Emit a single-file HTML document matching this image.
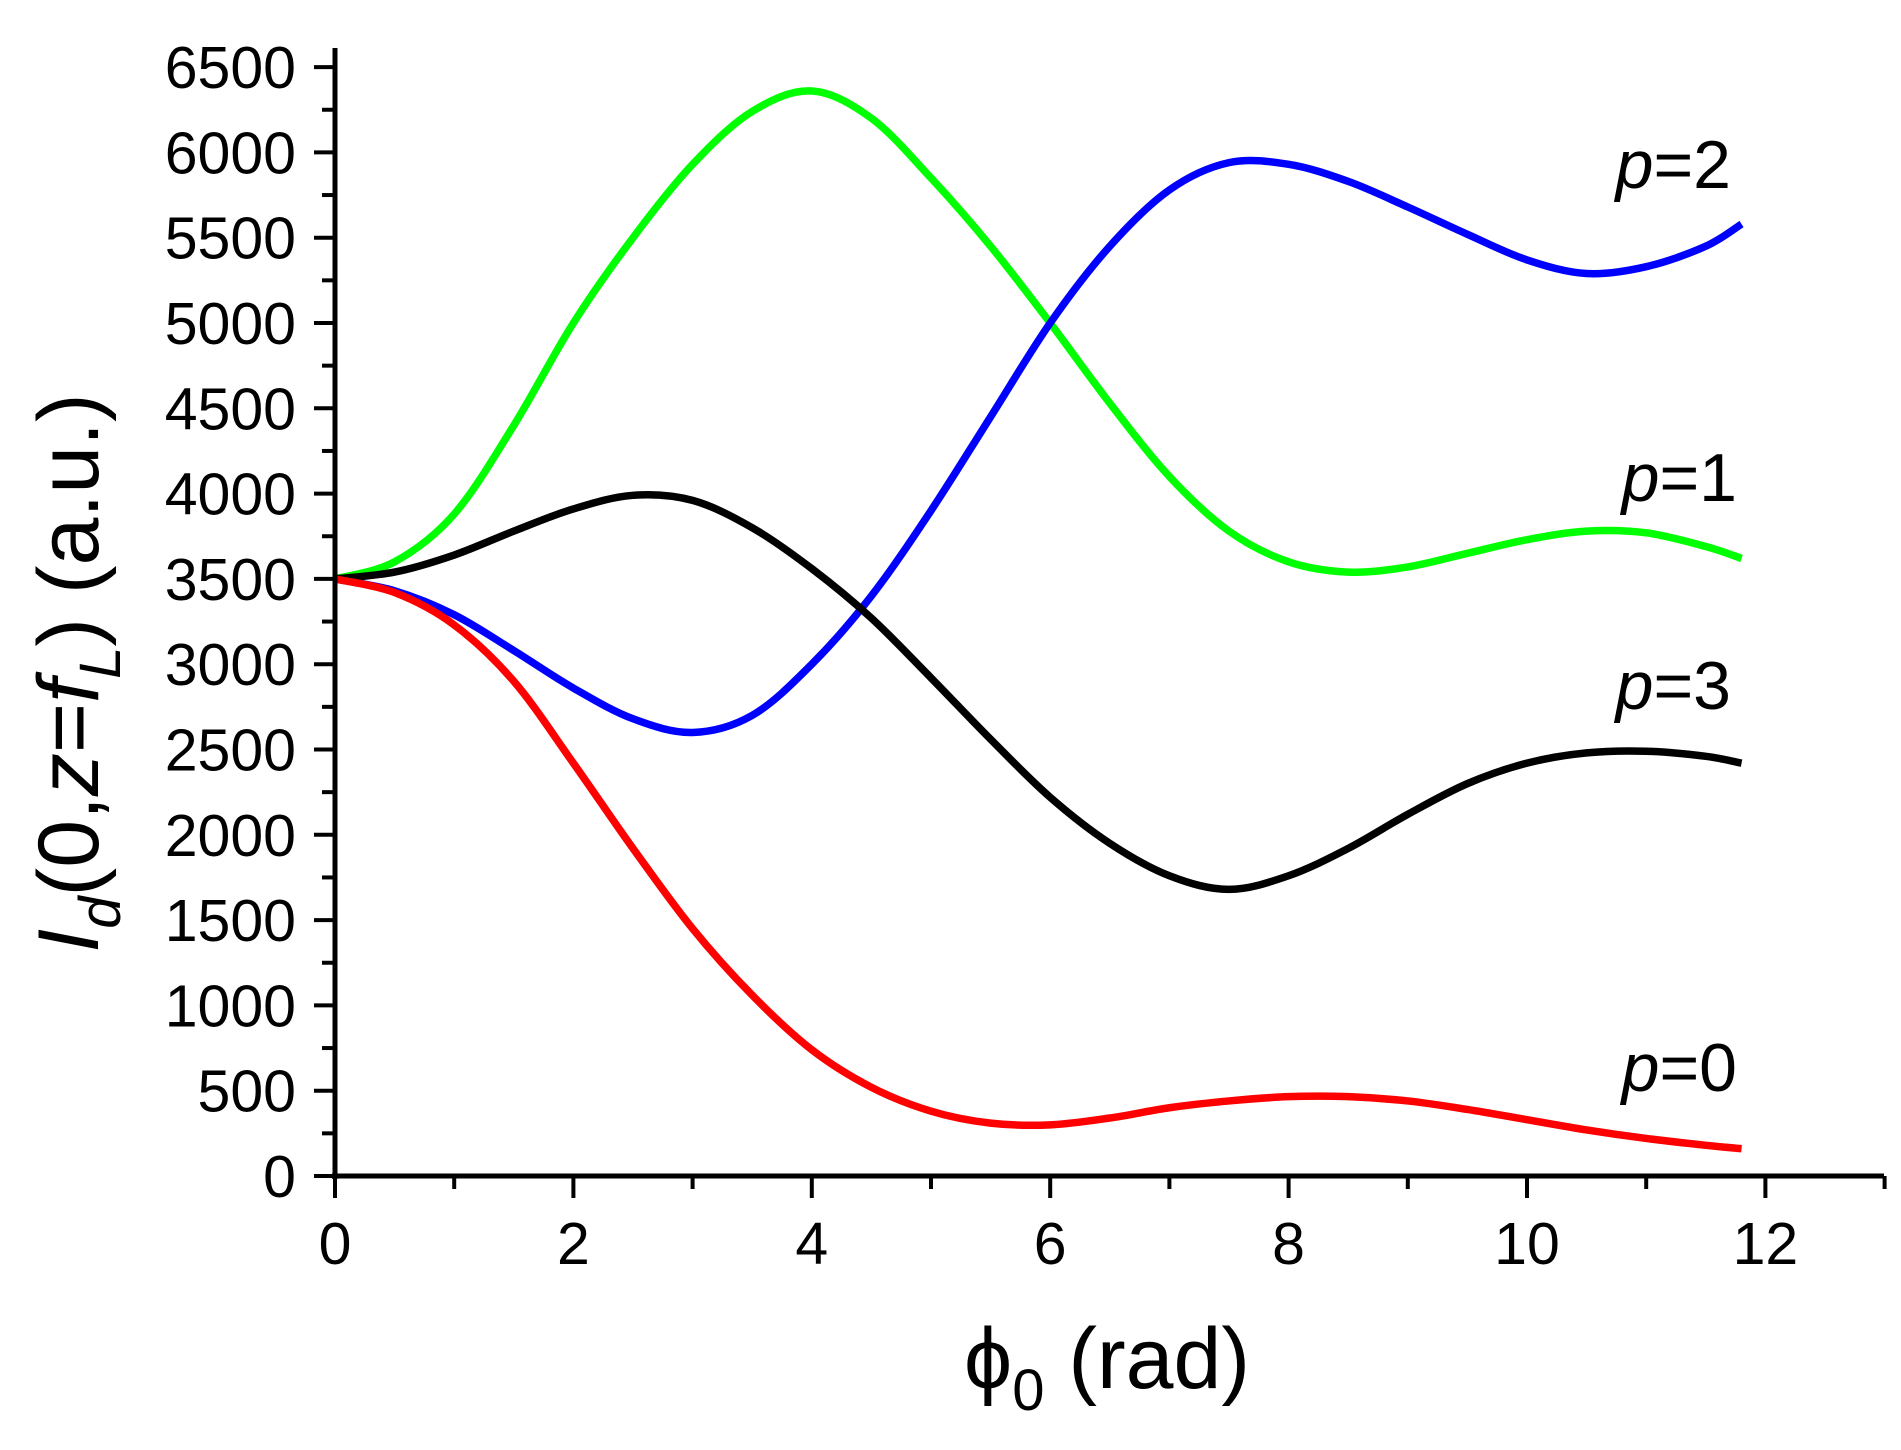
<!DOCTYPE html>
<html><head><meta charset="utf-8"><style>
html,body{margin:0;padding:0;background:#fff;}
svg{display:block;}
text{font-family:"Liberation Sans",Arial,sans-serif;fill:#000;}
</style></head><body>
<svg id="s" width="1901" height="1450" viewBox="0 0 1901 1450" xmlns="http://www.w3.org/2000/svg">
<g id="g"></g>
<text x="1731" y="188" font-size="68" text-anchor="end"><tspan font-style="italic">p</tspan>=2</text>
<text x="1737" y="501" font-size="68" text-anchor="end"><tspan font-style="italic">p</tspan>=1</text>
<text x="1731" y="709" font-size="68" text-anchor="end"><tspan font-style="italic">p</tspan>=3</text>
<text x="1737" y="1091" font-size="68" text-anchor="end"><tspan font-style="italic">p</tspan>=0</text>
<text x="1107" y="1388" font-size="86" text-anchor="middle">ϕ<tspan font-size="58" dy="22">0</tspan><tspan dy="-22"> (rad)</tspan></text>
<text transform="translate(98,673) rotate(-90)" font-size="86" text-anchor="middle"><tspan font-style="italic">I</tspan><tspan font-size="58" font-style="italic" dy="22">d</tspan><tspan dy="-22">(0,</tspan><tspan font-style="italic">z</tspan>=<tspan font-style="italic">f</tspan><tspan font-size="58" font-style="italic" dy="22">L</tspan><tspan dy="-22">) (a.u.)</tspan></text>
</svg>
<script>
var NS="http://www.w3.org/2000/svg",g=document.getElementById("g");
function X(x){return 335+x*119.2;}function Y(v){return 1176-v*0.1706;}
function el(n,a,t){var e=document.createElementNS(NS,n);for(var k in a)e.setAttribute(k,a[k]);if(t!=null)e.textContent=t;g.appendChild(e);return e;}
function path(vals,c){var pts=vals.map(function(v,i){return [i<24?i*0.5:11.8,v];});
var p=pts.map(function(q){return[X(q[0]),Y(q[1])];});var d="M"+p[0][0]+","+p[0][1];
for(var i=0;i<p.length-1;i++){var p0=p[i-1]||p[i],p1=p[i],p2=p[i+1],p3=p[i+2]||p2;
d+=" C"+(p1[0]+(p2[0]-p0[0])/6)+","+(p1[1]+(p2[1]-p0[1])/6)+" "+(p2[0]-(p3[0]-p1[0])/6)+","+(p2[1]-(p3[1]-p1[1])/6)+" "+p2[0]+","+p2[1];}
el("path",{d:d,fill:"none",stroke:c,"stroke-width":7.5,"stroke-linecap":"butt","stroke-linejoin":"round"});}
path([3500,3600,3880,4400,5000,5500,5930,6240,6360,6200,5850,5450,5000,4530,4100,3780,3600,3540,3570,3650,3730,3780,3770,3690,3620],"#00ff00");
path([3500,3430,3290,3080,2860,2680,2600,2700,3000,3400,3900,4450,5000,5450,5780,5940,5930,5830,5680,5520,5370,5290,5330,5450,5580],"#0000ff");
path([3500,3540,3640,3780,3910,3990,3960,3800,3560,3270,2920,2560,2220,1950,1760,1680,1760,1920,2120,2300,2420,2480,2490,2460,2420],"#000000");
path([3500,3420,3230,2900,2420,1920,1450,1060,740,520,380,310,300,340,400,440,465,465,440,390,330,270,220,180,160],"#ff0000");
el("line",{x1:335,y1:48,x2:335,y2:1179,stroke:"#000","stroke-width":5});
el("line",{x1:332,y1:1176,x2:1884,y2:1176,stroke:"#000","stroke-width":5});
for(var v=0;v<=6500;v+=250){var y=Y(v),maj=v%500==0;el("line",{x1:maj?314:322,y1:y,x2:335,y2:y,stroke:"#000","stroke-width":4});
if(maj)el("text",{x:296,y:y+21,"font-size":59,"text-anchor":"end"},v);}
for(var x=0;x<=13;x++){var xx=X(x),maj=x%2==0;el("line",{x1:xx,y1:1176,x2:xx,y2:maj?1198:1189,stroke:"#000","stroke-width":4});
if(maj)el("text",{x:xx,y:1264,"font-size":59,"text-anchor":"middle"},x);}
</script>
</body></html>
